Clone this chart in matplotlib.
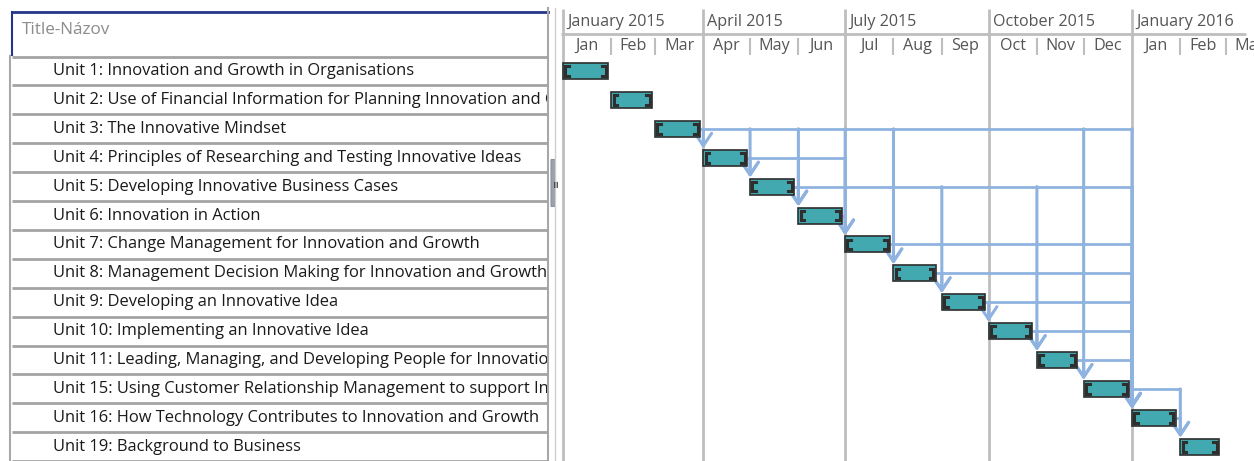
import matplotlib
matplotlib.use("Agg")
import matplotlib.pyplot as plt
import matplotlib.dates as mdates
from matplotlib.patches import FancyBboxPatch

plt.rcParams['font.family'] = ['Open Sans', 'DejaVu Sans']

# ---------------- data ----------------
header_title = "Title-Názov"
tasks = [
    "Unit 1: Innovation and Growth in Organisations",
    "Unit 2: Use of Financial Information for Planning Innovation and Growth",
    "Unit 3: The Innovative Mindset",
    "Unit 4: Principles of Researching and Testing Innovative Ideas",
    "Unit 5: Developing Innovative Business Cases",
    "Unit 6: Innovation in Action",
    "Unit 7: Change Management for Innovation and Growth",
    "Unit 8: Management Decision Making for Innovation and Growth",
    "Unit 9: Developing an Innovative Idea",
    "Unit 10: Implementing an Innovative Idea",
    "Unit 11: Leading, Managing, and Developing People for Innovation",
    "Unit 15: Using Customer Relationship Management to support Innovation",
    "Unit 16: How Technology Contributes to Innovation and Growth",
    "Unit 19: Background to Business",
]
starts = ["2015-01-01", "2015-02-01", "2015-03-01", "2015-04-01", "2015-05-01",
          "2015-06-01", "2015-07-01", "2015-08-01", "2015-09-01", "2015-10-01",
          "2015-11-01", "2015-12-01", "2016-01-01", "2016-02-01"]
ends = ["2015-01-30", "2015-02-27", "2015-03-30", "2015-04-29", "2015-05-29",
        "2015-06-29", "2015-07-30", "2015-08-28", "2015-09-29", "2015-10-29",
        "2015-11-27", "2015-12-30", "2016-01-29", "2016-02-26"]
# finish-to-start links (predecessor row, successor row), 1-based
links = [(3, 4), (3, 5), (3, 6), (3, 7), (3, 8), (3, 12), (3, 13),
         (4, 5), (4, 6), (4, 7),
         (5, 6), (5, 9), (5, 11), (5, 13),
         (6, 7),
         (7, 8), (7, 13),
         (8, 9), (8, 13),
         (9, 10), (9, 13),
         (10, 11), (10, 13),
         (11, 12), (11, 13),
         (12, 13), (12, 14),
         (13, 14)]
quarter_labels = ["January 2015", "April 2015", "July 2015", "October 2015", "January 2016"]
quarter_starts = ["2015-01-01", "2015-04-01", "2015-07-01", "2015-10-01", "2016-01-01"]
month_labels = ["Jan", "Feb", "Mar", "Apr", "May", "Jun", "Jul", "Aug", "Sep",
                "Oct", "Nov", "Dec", "Jan", "Feb", "Mar"]
month_starts = ["2015-01-01", "2015-02-01", "2015-03-01", "2015-04-01", "2015-05-01",
                "2015-06-01", "2015-07-01", "2015-08-01", "2015-09-01", "2015-10-01",
                "2015-11-01", "2015-12-01", "2016-01-01", "2016-02-01", "2016-03-01",
                "2016-04-01"]

# ---------------- styling ----------------
TEAL = "#43A9B0"
DARK = "#2E2E2E"
LINK = "#8FB3E0"
GRID = "#BEBEBE"
TXT = "#1A1A1A"
HDR = "#555555"

W, H = 1254, 461
ROW_PX, ROW1_PX = 28.9, 71.0


def yrow(px):
    return 1 + (px - ROW1_PX) / ROW_PX


YTOP, YBOT = yrow(0), yrow(H)

fig = plt.figure(figsize=(W / 100, H / 100), dpi=100)

# background axes in pixel coordinates
bg = fig.add_axes([0, 0, 1, 1])
bg.set_xlim(0, W)
bg.set_ylim(H, 0)
bg.axis("off")

# ---------------- table ----------------
TX0, TX1 = 12, 547
tab = fig.add_axes([TX0 / W, 0, (TX1 - TX0) / W, 1])
tab.set_xlim(TX0, TX1)
tab.set_ylim(YBOT, YTOP)
tab.axis("off")

rows = list(range(1, len(tasks) + 1))
for r, name in zip(rows, tasks):
    tab.text(53, r, name, fontsize=11.9, color=TXT, va="center", ha="left",
             clip_on=True)
for r in [0] + rows:
    tab.plot([TX0, TX1 + 1], [r + 0.5, r + 0.5], color="#A3A3A3", lw=2,
             solid_capstyle="butt", clip_on=False)
tab.text(22, yrow(30), header_title, fontsize=12.3, color="#8C8C8C", va="center",
         ha="left")

# table borders
bg.plot([TX0, TX1 + 1], [12, 12], color="#25358A", lw=2)
bg.plot([TX0, TX0], [12, 55], color="#25358A", lw=1.5)
bg.plot([TX0 - 2, TX0 - 2], [56, H], color="#A8A8A8", lw=1.5)
bg.plot([TX1 + 1, TX1 + 1], [8, H], color="#A8A8A8", lw=1.5)
bg.plot([TX1 + 8, TX1 + 8], [8, H], color="#CFCFCF", lw=1)
bg.add_patch(FancyBboxPatch((551.5, 160), 3, 46, boxstyle="round,pad=0.5",
                            fc="#9AA3AD", ec="#8A939D", lw=0.8))
bg.text(556, 183, "≡", fontsize=7, color="#333333", va="center", ha="center",
        rotation=90, family="DejaVu Sans")

# ---------------- gantt ----------------
GX0 = 560
gx = fig.add_axes([GX0 / W, 0, (W - GX0) / W, 1])
d0 = mdates.datestr2num("2015-01-01")
PX_PER_DAY = 569 / 365.0
gx.set_xlim(d0 - (563 - GX0) / PX_PER_DAY, d0 + (W - 563) / PX_PER_DAY)
gx.set_ylim(YBOT, YTOP)
gx.axis("off")

s_num = [mdates.datestr2num(s) for s in starts]
e_num = [mdates.datestr2num(e) for e in ends]
q_num = [mdates.datestr2num(q) for q in quarter_starts]
m_num = [mdates.datestr2num(m) for m in month_starts]

# header
ytier = yrow(34)
gx.plot([q_num[0] - 1, gx.get_xlim()[1] - 8 / PX_PER_DAY], [ytier, ytier],
        color=GRID, lw=2, solid_capstyle="butt")
for q, lab in zip(q_num, quarter_labels):
    gx.plot([q, q], [yrow(9), YBOT], color=GRID, lw=2, solid_capstyle="butt")
    gx.text(q + 4 / PX_PER_DAY, yrow(22), lab, fontsize=11.6, color=HDR,
            va="center", ha="left", clip_on=True)
for i, lab in enumerate(month_labels):
    a, b = m_num[i], m_num[i + 1]
    if a not in q_num:
        gx.plot([a, a], [yrow(38), yrow(55)], color=GRID, lw=1.5,
                solid_capstyle="butt")
    gx.text((a + b) / 2, yrow(46), lab, fontsize=11.6, color=HDR,
            va="center", ha="center", clip_on=True)

# links
BAR_H = 16 / ROW_PX
succ_by_pred = {}
for p, s in links:
    succ_by_pred.setdefault(p, []).append(s)
for p, succs in succ_by_pred.items():
    xend = max(s_num[s - 1] for s in succs)
    gx.plot([e_num[p - 1], xend + 0.6], [p, p], color=LINK, lw=2,
            solid_capstyle="butt", zorder=2)
for p, s in links:
    x = s_num[s - 1]
    gx.annotate("", xy=(x, s - BAR_H / 2 - 0.04), xytext=(x, p),
                arrowprops=dict(arrowstyle="->,head_length=0.45,head_width=0.3",
                                color=LINK, lw=2.2,
                                shrinkA=0, shrinkB=0, mutation_scale=20),
                zorder=2)

# bars
widths = [e - s for s, e in zip(s_num, e_num)]
gx.barh(rows, widths, left=s_num, height=BAR_H, color=TEAL, edgecolor=DARK,
        linewidth=1.2, zorder=3)
bi = 2.2 / PX_PER_DAY
bw = 6 / PX_PER_DAY
bh = BAR_H / 2 - 3.2 / ROW_PX
for r, s, e in zip(rows, s_num, e_num):
    gx.plot([s + bw, s + bi, s + bi, s + bw], [r - bh, r - bh, r + bh, r + bh],
            color=DARK, lw=2.2, zorder=4, solid_joinstyle="miter")
    gx.plot([e - bw, e - bi, e - bi, e - bw], [r - bh, r - bh, r + bh, r + bh],
            color=DARK, lw=2.2, zorder=4, solid_joinstyle="miter")

fig.savefig("out.png", dpi=100)
